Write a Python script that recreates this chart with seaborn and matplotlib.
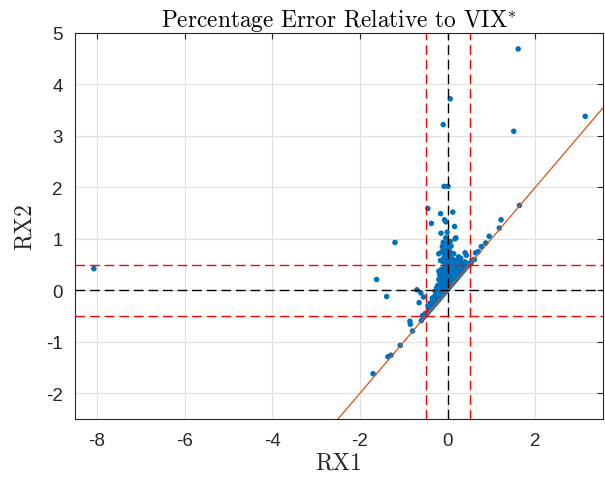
import numpy as np
import pandas as pd
import matplotlib
matplotlib.use("Agg")
import matplotlib.pyplot as plt
import seaborn as sns

# Relative pricing errors of the two estimators (fractions)
rx1 = [
    -8.07, 1.61, 0.06, -0.10, 1.51, 3.14, -0.08, 0.01, -0.45, 1.64,
    -0.37, -0.16, 0.12, -0.07, -0.04, 0.16, -0.15, -0.01, 1.22, 1.18,
    0.95, 0.87, 0.77, 0.70, 0.64, -1.20, -1.62, -1.39, -0.70, -0.61,
    -0.55, -0.65, -0.86, -0.85, -0.80, -1.08, -1.29, -1.36, -1.70, -0.57,
    -0.51, -0.43, -0.36, 0.19, 0.17, -0.10, 0.01, 0.02, 0.08, -0.13,
    -0.07, -0.16, 0.14, 0.25, 0.40, 0.43, 0.23, 0.33, 0.61, 0.53,
    0.40, 0.30, -0.20, -0.20, -0.20, -0.23, -0.27, -0.11, -0.33, -0.22,
    -0.60, -0.55, -0.50, -0.47, -0.44, -0.40, -0.37, -0.34, -0.31, -0.28,
    -0.25, -0.22, -0.19, -0.16, -0.13, -0.10, -0.07, -0.04, -0.01, 0.02,
    0.05, 0.08, 0.11, 0.14, 0.17, 0.20, 0.23, 0.26, 0.30, 0.34,
    0.38, 0.42, 0.46, 0.50, 0.55,
    -0.45, -0.40, -0.35, -0.30, -0.28, -0.25, -0.20, -0.18, -0.15, -0.15,
    -0.12, -0.10, -0.08, -0.05, -0.05, -0.02, 0.00, 0.02, 0.05, 0.05,
    0.08, 0.10, 0.12, 0.15, 0.18, 0.20, 0.22, 0.25, 0.28, 0.30,
    0.35, 0.38, -0.12, -0.08, -0.03, 0.00, 0.04, 0.08, 0.10, -0.10,
    0.02, -0.05, 0.05, 0.12, 0.15, -0.15, -0.18, 0.18, 0.00, 0.06,
    -0.04,
    -0.12, -0.06, 0.03, 0.09, -0.09, -0.02, 0.06, 0.11, -0.14, -0.06,
    0.01, 0.07, 0.13, 0.20, -0.11, -0.04, 0.03, 0.10, 0.16, 0.22,
    0.27, -0.08, 0.00, 0.06, 0.13, 0.19, 0.24, 0.32, -0.26, -0.17,
    -0.09, 0.04, -0.32, -0.24, -0.13, -0.41, -0.36, 0.44, 0.36, 0.31,
]
rx2 = [
    0.42, 4.69, 3.72, 3.22, 3.09, 3.38, 2.02, 2.02, 1.59, 1.65,
    1.30, 1.49, 1.52, 1.37, 1.33, 1.24, 1.11, 1.13, 1.37, 1.21,
    1.05, 0.92, 0.85, 0.75, 0.73, 0.93, 0.21, -0.12, 0.01, -0.05,
    -0.13, -0.24, -0.60, -0.66, -0.79, -1.07, -1.26, -1.29, -1.62, -0.49,
    -0.45, -0.36, -0.24, 1.02, 1.00, 0.93, 0.93, 0.81, 0.86, 0.75,
    0.65, 0.58, 0.71, 0.65, 0.73, 0.68, 0.56, 0.54, 0.60, 0.52,
    0.55, 0.62, 0.71, 0.37, 0.21, 0.00, -0.08, 0.16, -0.16, 0.10,
    -0.59, -0.53, -0.49, -0.45, -0.42, -0.38, -0.35, -0.32, -0.29, -0.26,
    -0.23, -0.20, -0.17, -0.14, -0.11, -0.08, -0.05, -0.02, 0.01, 0.04,
    0.07, 0.10, 0.13, 0.16, 0.19, 0.22, 0.25, 0.28, 0.32, 0.36,
    0.40, 0.44, 0.48, 0.52, 0.57,
    -0.30, -0.25, -0.15, -0.12, -0.02, 0.05, -0.05, 0.08, 0.12, 0.00,
    0.05, 0.20, 0.12, 0.25, 0.08, 0.18, 0.30, 0.15, 0.22, 0.40,
    0.30, 0.20, 0.35, 0.28, 0.40, 0.30, 0.45, 0.38, 0.48, 0.42,
    0.50, 0.47, 0.35, 0.45, 0.50, 0.60, 0.55, 0.62, 0.48, 0.55,
    0.70, 0.78, 0.75, 0.60, 0.50, 0.40, 0.30, 0.58, 0.88, 0.95,
    1.02,
    0.85, 0.70, 0.82, 0.72, 0.62, 0.40, 0.45, 0.40, 0.25, 0.32,
    0.38, 0.33, 0.25, 0.35, 0.15, 0.10, 0.18, 0.28, 0.22, 0.38,
    0.35, 0.02, 0.12, 0.14, 0.20, 0.27, 0.33, 0.40, -0.18, -0.08,
    -0.03, 0.10, -0.22, -0.12, -0.05, -0.33, -0.28, 0.50, 0.45, 0.40,
]

x_ticks = [-8, -6, -4, -2, 0, 2]
y_ticks = [-2, -1, 0, 1, 2, 3, 4, 5]
band = 0.5

df = pd.DataFrame({"RX1": rx1, "RX2": rx2})

sns.set_theme(style="white")
plt.rcParams["axes.unicode_minus"] = False
plt.rcParams["mathtext.fontset"] = "cm"
plt.rcParams["axes.formatter.use_mathtext"] = False

fig = plt.figure(figsize=(6.05, 4.85), dpi=100)
ax = fig.add_axes([0.124, 0.134, 0.873, 0.796])

blue = "#0072BD"
orange = "#D95319"

sns.scatterplot(data=df, x="RX1", y="RX2", ax=ax, color=blue, s=16,
                edgecolor="none", linewidth=0, zorder=3)

xlim = (-8.5, 3.55)
ylim = (-2.5, 5)

# 45-degree reference line
ax.plot([ylim[0], xlim[1]], [ylim[0], xlim[1]], color=orange, lw=0.9, zorder=4)

dash = dict(lw=1.0, dashes=(7, 3.5), zorder=5)
ax.axhline(0, color="black", **dash)
ax.axvline(0, color="black", **dash)
for v in (-band, band):
    ax.axhline(v, color="#FF0000", **dash)
    ax.axvline(v, color="#FF0000", **dash)

ax.set_xlim(*xlim)
ax.set_ylim(*ylim)
ax.set_xticks(x_ticks)
ax.set_yticks(y_ticks)
ax.grid(True, color="#E0E0E0", lw=0.8, zorder=0)
ax.set_axisbelow(True)

for sp in ax.spines.values():
    sp.set_color("#262626")
    sp.set_linewidth(0.8)
    sp.set_visible(True)

ax.tick_params(direction="in", length=4, width=0.8, color="#262626",
               top=True, right=True, labelsize=13.5, labelcolor="#262626",
               pad=9)
for lab in ax.get_xticklabels() + ax.get_yticklabels():
    lab.set_fontfamily("Liberation Sans")

serif = ["cmr10", "DejaVu Serif"]
ax.set_xlabel("RX1", fontfamily=serif, fontsize=17, labelpad=2)
ax.set_ylabel("RX2", fontfamily=serif, fontsize=17, labelpad=7)
ax.set_title(r"Percentage Error Relative to VIX$^{*}$", fontfamily=serif,
             fontsize=16.8, pad=5, color="black")

fig.savefig("out.png", dpi=100)
